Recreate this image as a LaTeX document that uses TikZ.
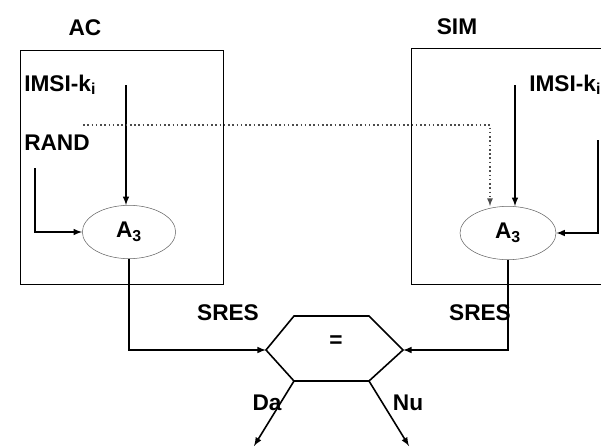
\documentclass[tikz,border=0pt]{standalone}
\usepackage{fontspec}
\setmainfont{Liberation Sans}
\usetikzlibrary{positioning, shapes.geometric, calc, arrows}

\begin{document}
\begin{tikzpicture}[x=0.75pt, y=-0.75pt,
  font=\bfseries\fontsize{17}{19}\selectfont,
  algo/.style = {draw=black!60, ellipse, minimum width=70pt, minimum height=40pt, inner sep=0pt},
  frame/.style = {draw, line width=0.7pt},
  link/.style = {line width=1.2pt}]

\useasboundingbox (0,0) rectangle (601,447);

% AC side
\draw[frame] (20,50) rectangle (223,284);
\node (ac) at (85,28) {AC};
\node[anchor=west, inner sep=0pt] (ac_imsi) at (24,85) {IMSI-k$_{\mathbf{i}}$};
\node[anchor=west, inner sep=0pt] (ac_rand) at (24,143) {RAND};
\node[algo] (ac_a3) at (129,232) {A$_{\mathbf{3}}$};

%--- IMSI -> A3 ---
\coordinate (ac_imsi_in) at (126,85);
\draw[link, -latex] (ac_imsi_in) -- (ac_a3.north -| ac_imsi_in);

%--- RAND -> A3 ---
\coordinate (ac_rand_in) at (35,168);
\draw[link, -latex] (ac_rand_in) |- (ac_a3.west);

% SIM side
\draw[frame] (620,48) -- (411,48) -- (411,284) -- (620,284);
\node (sim) at (457,27) {SIM};
\node[anchor=west, inner sep=0pt] (sim_imsi) at (529,85) {IMSI-k$_{\mathbf{i}}$};
\node[algo, minimum width=72pt] (sim_a3) at (508,233) {A$_{\mathbf{3}}$};

%--- IMSI -> A3 ---
\coordinate (sim_imsi_in) at (515,85);
\draw[link, -latex] (sim_imsi_in) -- (sim_a3.north -| sim_imsi_in);

%--- key -> A3 ---
\coordinate (sim_key_in) at (598,140);
\draw[link, -latex] (sim_key_in) |- (sim_a3.east);

%--- RAND sent to SIM ---
\coordinate (rand_out) at (83,125);
\coordinate (rand_turn) at (490,125);
\draw[line width=1pt, dash pattern=on 1.2pt off 2pt, draw=black!70, -latex] (rand_out) -- (rand_turn) -- (rand_turn |- sim_a3.north);

% compare
\node (cmp) at (336,342) {=};
\coordinate (cmp_w)  at (266,350);
\coordinate (cmp_nw) at (294,316);
\coordinate (cmp_ne) at (369,316);
\coordinate (cmp_e)  at (403,350);
\coordinate (cmp_se) at (369,381);
\coordinate (cmp_sw) at (294,381);
\draw[link] (cmp_w) -- (cmp_nw) -- (cmp_ne) -- (cmp_e) -- (cmp_se) -- (cmp_sw) -- cycle;

%--- SRES -> compare ---
\draw[link, -latex] (ac_a3.south) |- (cmp_w);
\draw[link, -latex] (sim_a3.south) |- (cmp_e);
\node (sres_ac) at (228,313) {SRES};
\node (sres_sim) at (480,313) {SRES};

%--- outcomes ---
\coordinate (da_end) at (254,446);
\coordinate (nu_end) at (409,446);
\draw[link, -latex] (cmp_sw) -- (da_end);
\draw[link, -latex] (cmp_se) -- (nu_end);
\node (da) at (267,403) {Da};
\node (nu) at (408,403) {Nu};

\end{tikzpicture}
\end{document}
